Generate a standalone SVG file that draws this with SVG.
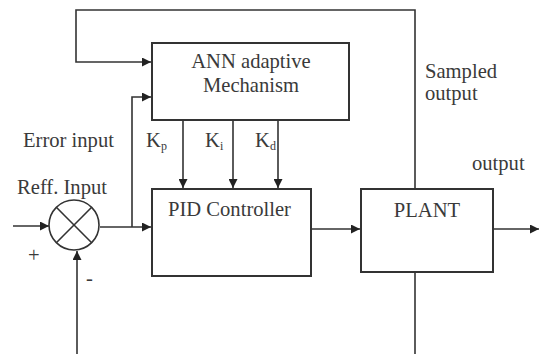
<svg xmlns="http://www.w3.org/2000/svg" width="539" height="354" viewBox="0 0 539 354">
<defs>
<style>
.ln{fill:none;stroke:#333;stroke-width:1.6}
.bx{fill:#fff;stroke:#333;stroke-width:2}
.t{font-family:"Liberation Serif","Times New Roman",serif;font-size:20.6px;fill:#3a3a3a}
.s{font-size:12px}
</style>
<marker id="ah" viewBox="0 0 10 10" refX="10" refY="5" markerWidth="9" markerHeight="9" markerUnits="userSpaceOnUse" orient="auto">
<path d="M0,0 L10,5 L0,10 z" fill="#222"/>
</marker>
</defs>
<g id="connectors">
<polyline class="ln" points="415,189 415,10 76,10 76,62 151,62" marker-end="url(#ah)"/>
<line class="ln" x1="415" y1="272" x2="415" y2="354"/>
<polyline class="ln" points="132,227 132,97 151,97" marker-end="url(#ah)"/>
<line class="ln" x1="100" y1="227" x2="151" y2="227" marker-end="url(#ah)"/>
<line class="ln" x1="13" y1="226" x2="49" y2="226" marker-end="url(#ah)"/>
<line class="ln" x1="77" y1="354" x2="77" y2="251" marker-end="url(#ah)"/>
<line class="ln" x1="183" y1="120" x2="183" y2="188" marker-end="url(#ah)"/>
<line class="ln" x1="233" y1="120" x2="233" y2="188" marker-end="url(#ah)"/>
<line class="ln" x1="278" y1="120" x2="278" y2="188" marker-end="url(#ah)"/>
<line class="ln" x1="311" y1="229" x2="360" y2="229" marker-end="url(#ah)"/>
<line class="ln" x1="493" y1="229" x2="539" y2="229" marker-end="url(#ah)"/>
</g>
<g id="ann">
<rect class="bx" x="152" y="43" width="197" height="77"/>
<text class="t" x="251" y="68" text-anchor="middle">ANN adaptive</text>
<text class="t" x="251" y="92" text-anchor="middle">Mechanism</text>
</g>
<g id="pid">
<rect class="bx" x="152" y="189" width="159" height="87"/>
<text class="t" x="168" y="216">PID Controller</text>
</g>
<g id="plant">
<rect class="bx" x="361" y="189" width="132" height="83"/>
<text class="t" x="427" y="217" text-anchor="middle">PLANT</text>
</g>
<g id="sum">
<circle cx="74" cy="225" r="25" fill="#fff" stroke="#333" stroke-width="1.6"/>
<line class="ln" x1="56.3" y1="207.3" x2="91.7" y2="242.7"/>
<line class="ln" x1="91.7" y1="207.3" x2="56.3" y2="242.7"/>
</g>
<g id="labels">
<text class="t" x="23" y="147">Error input</text>
<text class="t" x="17" y="194">Reff. Input</text>
<text class="t" x="146" y="147">K<tspan class="s" dy="3">p</tspan></text>
<text class="t" x="205" y="147">K<tspan class="s" dy="3">i</tspan></text>
<text class="t" x="255" y="147">K<tspan class="s" dy="3">d</tspan></text>
<text class="t" x="425" y="78">Sampled</text>
<text class="t" x="425" y="100">output</text>
<text class="t" x="472" y="170">output</text>
<text class="t" x="28" y="262">+</text>
<text class="t" x="86" y="285">-</text>
</g>
</svg>
